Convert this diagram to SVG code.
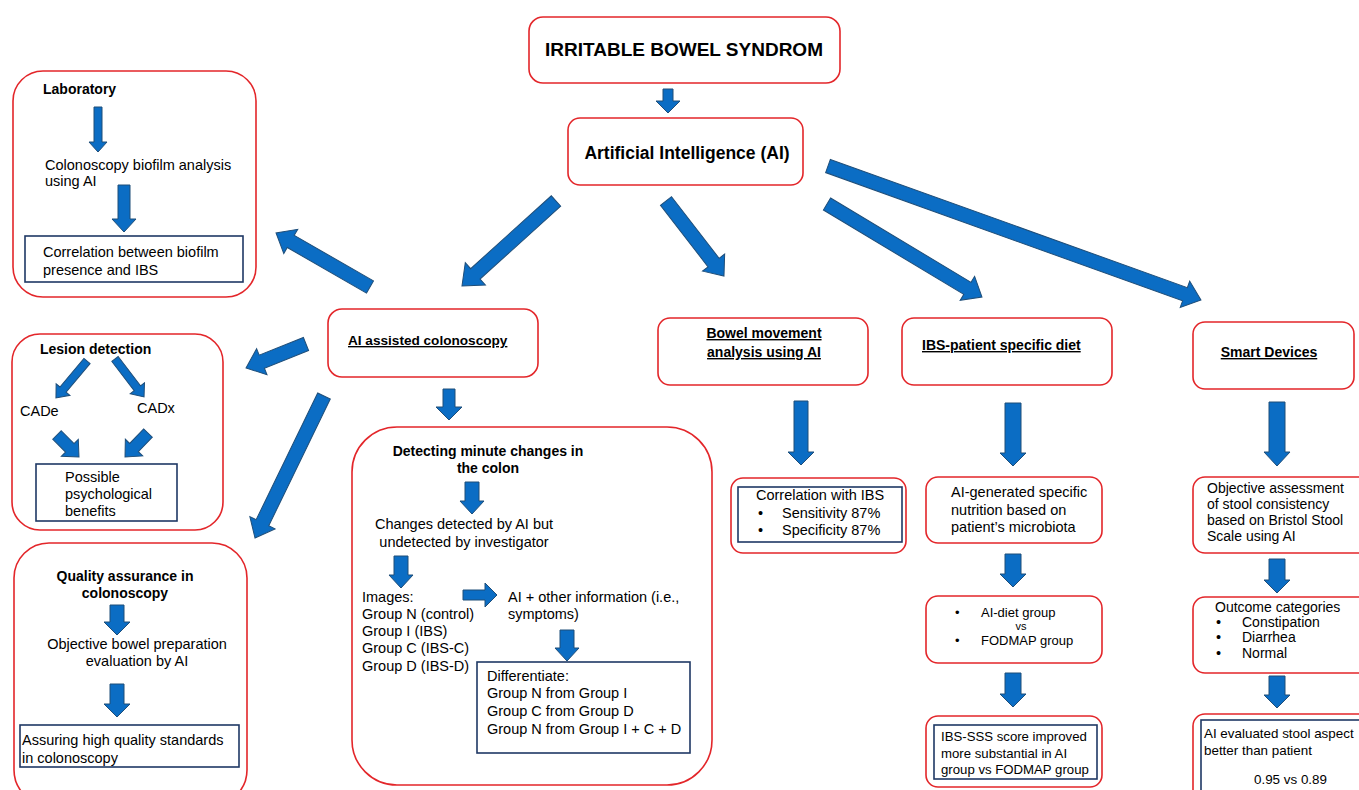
<svg xmlns="http://www.w3.org/2000/svg" width="1359" height="790" viewBox="0 0 1359 790">
<style>
text{font-family:"Liberation Sans",Arial,sans-serif;font-size:14.5px;fill:#000}
.b{font-weight:bold;font-size:14px}
.u{text-decoration:underline}
.box{fill:#fff;stroke:#E3262A;stroke-width:1.6}
.in{fill:#fff;stroke:#1F3864;stroke-width:1.6}
.arr{fill:#0B6DC4;stroke:#1F4E79;stroke-width:1}
.c{text-anchor:middle}
</style>
<rect width="1359" height="790" fill="#fff"/>

<g id="ibs">
<rect class="box" x="529" y="17" width="311" height="66" rx="14"/>
<text class="b c" x="684" y="56" style="font-size:19px">IRRITABLE BOWEL SYNDROM</text>
</g>
<g id="ai">
<rect class="box" x="568" y="118" width="235" height="67" rx="12"/>
<text class="b c" x="687" y="159" style="font-size:17.5px">Artificial Intelligence (AI)</text>
</g>
<g id="ai-colonoscopy">
<rect class="box" x="328" y="309" width="210" height="68" rx="14"/>
<text class="b u" x="348" y="345" style="font-size:13.6px">AI assisted colonoscopy</text>
</g>

<g id="laboratory">
<rect class="box" x="13" y="71" width="243" height="226" rx="30"/>
<text class="b" x="43" y="94">Laboratory</text>
<text x="45" y="170">Colonoscopy biofilm analysis</text>
<text x="45" y="186">using AI</text>
<rect class="in" x="25" y="236" width="218" height="46"/>
<text x="43" y="257">Correlation between biofilm</text>
<text x="43" y="275">presence and IBS</text>
</g>

<g id="lesion">
<rect class="box" x="12" y="334" width="211" height="196" rx="28"/>
<text class="b" x="40" y="354">Lesion detection</text>
<text x="20" y="416">CADe</text>
<text x="137" y="413">CADx</text>
<rect class="in" x="36" y="464" width="141" height="57"/>
<text x="65" y="482">Possible</text>
<text x="65" y="499">psychological</text>
<text x="65" y="516">benefits</text>
</g>

<g id="quality">
<rect class="box" x="14" y="543" width="233" height="262" rx="35"/>
<text class="b c" x="125" y="581">Quality assurance in</text>
<text class="b c" x="125" y="598">colonoscopy</text>
<text class="c" x="137" y="649">Objective bowel preparation</text>
<text class="c" x="137" y="666">evaluation by AI</text>
<rect class="in" x="20" y="725" width="219" height="42"/>
<text x="22" y="745">Assuring high quality standards</text>
<text x="22" y="763">in colonoscopy</text>
</g>

<g id="detecting">
<rect class="box" x="352" y="427" width="360" height="358" rx="45"/>
<text class="b c" x="488" y="456">Detecting minute changes in</text>
<text class="b c" x="488" y="473">the colon</text>
<text class="c" x="464" y="529">Changes detected by AI but</text>
<text class="c" x="464" y="547">undetected by investigator</text>
<text x="362" y="602">Images:</text>
<text x="362" y="619">Group N (control)</text>
<text x="362" y="636">Group I (IBS)</text>
<text x="362" y="653">Group C (IBS-C)</text>
<text x="362" y="671">Group D (IBS-D)</text>
<text x="508" y="602">AI + other information (i.e.,</text>
<text x="508" y="619">symptoms)</text>
<rect class="in" x="477" y="662" width="213" height="91"/>
<text x="487" y="681">Differentiate:</text>
<text x="487" y="698">Group N from Group I</text>
<text x="487" y="716">Group C from Group D</text>
<text x="487" y="734">Group N from Group I + C + D</text>
</g>

<g id="bowel">
<rect class="box" x="658" y="318" width="210" height="67" rx="12"/>
<text class="b u c" x="764" y="338">Bowel movement</text>
<text class="b u c" x="764" y="357">analysis using AI</text>
</g>
<g id="bowel-correlation">
<rect class="box" x="731" y="478" width="175" height="75" rx="12"/>
<rect class="in" x="738" y="487" width="164" height="55"/>
<text x="756" y="500">Correlation with IBS</text>
<text x="758" y="518">•</text>
<text x="782" y="518">Sensitivity 87%</text>
<text x="758" y="535">•</text>
<text x="782" y="535">Specificity 87%</text>
</g>

<g id="diet">
<rect class="box" x="902" y="318" width="210" height="67" rx="12"/>
<text class="b u" x="922" y="350">IBS-patient specific diet</text>
</g>
<g id="ai-nutrition">
<rect class="box" x="926" y="477" width="176" height="66" rx="12"/>
<text x="951" y="497">AI-generated specific</text>
<text x="951" y="515">nutrition based on</text>
<text x="951" y="532">patient’s microbiota</text>
</g>
<g id="diet-groups">
<rect class="box" x="926" y="596" width="176" height="67" rx="12"/>
<text x="955" y="617" style="font-size:13px">•</text>
<text x="981" y="617" style="font-size:13px">AI-diet group</text>
<text class="c" x="1021" y="630" style="font-size:11px">vs</text>
<text x="955" y="645" style="font-size:13px">•</text>
<text x="981" y="645" style="font-size:13px">FODMAP group</text>
</g>
<g id="ibs-sss">
<rect class="box" x="926" y="716" width="176" height="71" rx="12"/>
<rect class="in" x="934" y="725" width="163" height="54"/>
<text x="941" y="741" style="font-size:13.2px">IBS-SSS score improved</text>
<text x="941" y="758" style="font-size:13.2px">more substantial in AI</text>
<text x="941" y="774" style="font-size:13.2px">group vs FODMAP group</text>
</g>

<g id="smart">
<rect class="box" x="1193" y="322" width="161" height="67" rx="12"/>
<text class="b u c" x="1269" y="357">Smart Devices</text>
</g>
<g id="stool-assessment">
<rect class="box" x="1193" y="477" width="180" height="76" rx="12"/>
<text x="1207" y="493" style="font-size:14px">Objective assessment</text>
<text x="1207" y="509" style="font-size:14px">of stool consistency</text>
<text x="1207" y="525" style="font-size:14px">based on Bristol Stool</text>
<text x="1207" y="541" style="font-size:14px">Scale using AI</text>
</g>
<g id="outcome">
<rect class="box" x="1193" y="597" width="180" height="76" rx="12"/>
<text x="1215" y="612" style="font-size:14px">Outcome categories</text>
<text x="1216" y="627">•</text>
<text x="1242" y="627" style="font-size:14px">Constipation</text>
<text x="1216" y="642">•</text>
<text x="1242" y="642" style="font-size:14px">Diarrhea</text>
<text x="1216" y="658">•</text>
<text x="1242" y="658" style="font-size:14px">Normal</text>
</g>
<g id="ai-evaluated">
<rect class="box" x="1193" y="714" width="180" height="90" rx="12"/>
<rect class="in" x="1201" y="720" width="170" height="80"/>
<text x="1204" y="738" style="font-size:13.4px">AI evaluated stool aspect</text>
<text x="1204" y="755" style="font-size:13.4px">better than patient</text>
<text x="1254" y="784" style="font-size:13.4px">0.95 vs 0.89</text>
</g>

<g id="connectors">
<polygon class="arr" points="663,89 673,89 673,101 680,101 668,113 656,101 663,101"/>
<polygon class="arr" points="443,389 455,389 455,407 462,407 449,420 436,407 443,407"/>
<polygon class="arr" points="794,401 808,401 808,452 814,452 801,465 788,452 794,452"/>
<polygon class="arr" points="1005,403 1021,403 1021,453 1026,453 1013,466 1000,453 1005,453"/>
<polygon class="arr" points="1005,554 1021,554 1021,574 1026,574 1013,587 1000,574 1005,574"/>
<polygon class="arr" points="1005,673 1021,673 1021,694 1026,694 1013,707 1000,694 1005,694"/>
<polygon class="arr" points="1269,402 1285,402 1285,452 1290,452 1277,466 1264,452 1269,452"/>
<polygon class="arr" points="1269,559 1285,559 1285,580 1290,580 1277,593 1264,580 1269,580"/>
<polygon class="arr" points="1269,676 1285,676 1285,695 1290,695 1277,708 1264,695 1269,695"/>
<polygon class="arr" points="94,107 102,107 102,142 107,142 98,152 89,142 94,142"/>
<polygon class="arr" points="118,185 130,185 130,219 136,219 124,232 112,219 118,219"/>
<polygon class="arr" points="110,605 124,605 124,622 130,622 117,635 104,622 110,622"/>
<polygon class="arr" points="110,684 124,684 124,704 130,704 117,717 104,704 110,704"/>
<polygon class="arr" points="465,482 479,482 479,501 484,501 472,514 460,501 465,501"/>
<polygon class="arr" points="394,556 408,556 408,575 413,575 401,588 389,575 394,575"/>
<polygon class="arr" points="560,630 574,630 574,648 579,648 567,661 555,648 560,648"/>
<polygon class="arr" points="463,590 485,590 485,583 497,595 485,607 485,600 463,600"/>

<polygon class="arr" transform="translate(556,201) rotate(137.9)" points="0,-7 108.7,-7 108.7,-15 126.7,0 108.7,15 108.7,7 0,7"/>
<polygon class="arr" transform="translate(370,287) rotate(-150.1)" points="0,-7 91.4,-7 91.4,-14 108.4,0 91.4,14 91.4,7 0,7"/>
<polygon class="arr" transform="translate(306,344) rotate(158.2)" points="0,-7 47.6,-7 47.6,-14 64.6,0 47.6,14 47.6,7 0,7"/>
<polygon class="arr" transform="translate(324,396) rotate(115.9)" points="0,-7 140.9,-7 140.9,-14 157.9,0 140.9,14 140.9,7 0,7"/>
<polygon class="arr" transform="translate(666,201) rotate(52.3)" points="0,-7 77.8,-7 77.8,-14 94.8,0 77.8,14 77.8,7 0,7"/>
<polygon class="arr" transform="translate(827,204) rotate(31)" points="0,-7 163.8,-7 163.8,-14 180.8,0 163.8,14 163.8,7 0,7"/>
<polygon class="arr" transform="translate(828,166) rotate(19.76)" points="0,-7 379.3,-7 379.3,-14 396.3,0 379.3,14 379.3,7 0,7"/>

<polygon class="arr" transform="translate(87,361) rotate(130)" points="0,-4 37.3,-4 37.3,-9 48.3,0 37.3,9 37.3,4 0,4"/>
<polygon class="arr" transform="translate(115,359) rotate(52.6)" points="0,-4 36.8,-4 36.8,-9 47.8,0 36.8,9 36.8,4 0,4"/>
<polygon class="arr" transform="translate(57,435) rotate(45)" points="0,-6 18.1,-6 18.1,-12 31.1,0 18.1,12 18.1,6 0,6"/>
<polygon class="arr" transform="translate(148,433) rotate(133.8)" points="0,-6 20.2,-6 20.2,-12 33.2,0 20.2,12 20.2,6 0,6"/>
</g>
</svg>
